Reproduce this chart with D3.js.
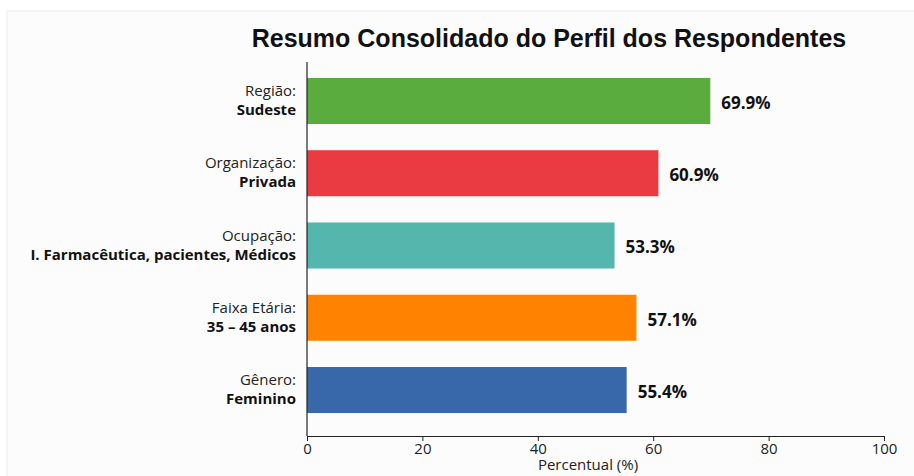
<!DOCTYPE html>
<html>
<head>
<meta charset="utf-8">
<script src="https://cdn.jsdelivr.net/npm/d3@7"></script>
<style>
  body { margin: 0; background: #ffffff; }
  svg { display: block; }
</style>
</head>
<body>
<div id="container"></div>
<script>
// Chart data
const categories = ['Região:', 'Organização:', 'Ocupação:', 'Faixa Etária:', 'Gênero:'];
const answers = ['Sudeste', 'Privada', 'I. Farmacêutica, pacientes, Médicos', '35 – 45 anos', 'Feminino'];
const values = [69.9, 60.9, 53.3, 57.1, 55.4];
const barColors = ['#5aac3e', '#ea3a42', '#55b6ad', '#ff8200', '#3868aa'];
const ticks = [0, 20, 40, 60, 80, 100];

const width = 914;
const height = 476;
const font = '"Open Sans", "DejaVu Sans", sans-serif';

const svg = d3.select('#container').append('svg')
    .attr('width', width)
    .attr('height', height);

// card background
svg.append('rect')
    .attr('x', 7).attr('y', 11)
    .attr('width', width - 6).attr('height', height - 10)
    .attr('fill', '#fcfcfc')
    .attr('stroke', '#ececec');

const x = d3.scaleLinear().domain([0, 100]).range([307, 884]);
const y = d3.scaleBand().domain(categories).range([63.5, 427.5]).paddingInner(0.363).paddingOuter(0.2);

// title
svg.append('text')
    .attr('x', 549).attr('y', 47)
    .attr('text-anchor', 'middle')
    .attr('font-family', '"Liberation Sans", Arial, sans-serif')
    .attr('font-weight', 'bold')
    .attr('font-size', 25)
    .attr('fill', '#111')
    .text('Resumo Consolidado do Perfil dos Respondentes');

// bars
svg.append('g').selectAll('rect')
    .data(values)
    .enter().append('rect')
    .attr('x', x(0))
    .attr('y', (d, i) => y(categories[i]))
    .attr('width', d => x(d) - x(0))
    .attr('height', y.bandwidth())
    .attr('fill', (d, i) => barColors[i]);

// value labels
svg.append('g').selectAll('text')
    .data(values)
    .enter().append('text')
    .attr('x', d => x(d) + 11)
    .attr('y', (d, i) => y(categories[i]) + y.bandwidth() / 2 + 2)
    .attr('dy', '0.35em')
    .attr('font-family', font)
    .attr('font-weight', 'bold')
    .attr('font-size', 17)
    .attr('fill', '#111')
    .text(d => d.toFixed(1) + '%');

// category labels (two lines)
const lab = svg.append('g').selectAll('g')
    .data(categories)
    .enter().append('g')
    .attr('transform', d => `translate(296,${y(d) + y.bandwidth() / 2})`);

lab.append('text')
    .attr('y', -10)
    .attr('dy', '0.35em')
    .attr('text-anchor', 'end')
    .attr('font-family', font)
    .attr('font-size', 15)
    .attr('fill', '#222')
    .text(d => d);

lab.append('text')
    .attr('y', 9)
    .attr('dy', '0.35em')
    .attr('text-anchor', 'end')
    .attr('font-family', font)
    .attr('font-weight', 'bold')
    .attr('font-size', 15)
    .attr('fill', '#111')
    .text((d, i) => answers[i]);

// left axis line
svg.append('line')
    .attr('x1', x(0)).attr('x2', x(0))
    .attr('y1', 62).attr('y2', 436)
    .attr('stroke', '#222')
    .attr('stroke-width', 1.2);

// bottom axis
const xAxis = svg.append('g')
    .attr('transform', 'translate(0,436)')
    .call(d3.axisBottom(x).tickValues(ticks).tickSize(5).tickSizeOuter(0).tickPadding(2));

xAxis.select('.domain').attr('stroke', '#222').attr('stroke-width', 1.2);
xAxis.selectAll('.tick line').attr('stroke', '#222');
xAxis.selectAll('.tick text')
    .attr('font-family', font)
    .attr('font-size', 15)
    .attr('fill', '#222');

svg.append('text')
    .attr('x', 588).attr('y', 470)
    .attr('text-anchor', 'middle')
    .attr('font-family', font)
    .attr('font-size', 15)
    .attr('fill', '#222')
    .text('Percentual (%)');
</script>
</body>
</html>
